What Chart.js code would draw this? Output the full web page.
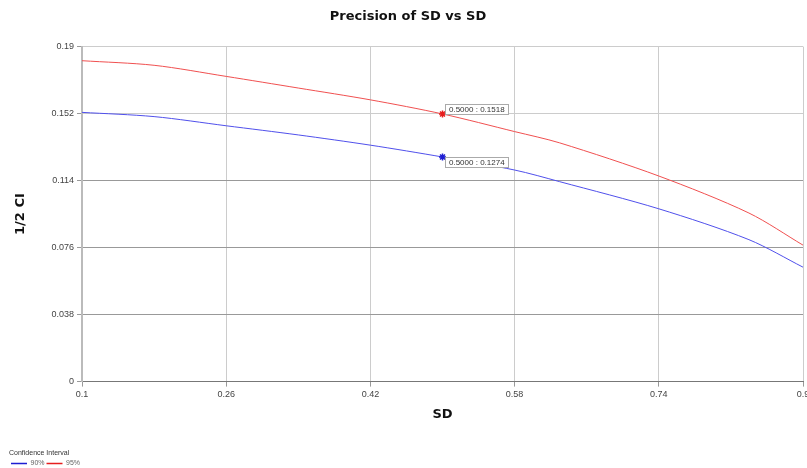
<!DOCTYPE html>
<html>
<head>
<meta charset="utf-8">
<title>Precision of SD vs SD</title>
<script src="https://cdn.jsdelivr.net/npm/chart.js"></script>
<style>
  body { margin: 0; background: #fff; }
  canvas { display: block; }
</style>
</head>
<body>
<canvas id="chart" width="807" height="468"></canvas>
<script>
// values
const sdValues = [0.1, 0.18, 0.26, 0.34, 0.42, 0.5, 0.58, 0.63, 0.74, 0.84, 0.9];
const ci90 = [0.1527, 0.1503, 0.1451, 0.1399, 0.1341, 0.1274, 0.1200, 0.1134, 0.0980, 0.0805, 0.0649];
const ci95 = [0.1820, 0.1794, 0.1731, 0.1665, 0.1598, 0.1518, 0.1418, 0.1354, 0.1166, 0.0956, 0.0774];
const seriesNames = ['90%', '95%'];
const xTicks = [0.1, 0.26, 0.42, 0.58, 0.74, 0.9];
const yTicks = [0, 0.038, 0.076, 0.114, 0.152, 0.19];
const darkGridValues = [0.038, 0.076, 0.114];
const markedSd = 0.5;

const toPoints = vals => vals.map((v, i) => ({ x: sdValues[i], y: v }));

// little value boxes next to the marked points
const markPlugin = {
    id: 'marks',
    afterDatasetsDraw(chart) {
        const ctx = chart.ctx;
        const i = sdValues.indexOf(markedSd);
        chart.data.datasets.forEach((ds, d) => {
            const pt = chart.getDatasetMeta(d).data[i];
            const text = markedSd.toFixed(4) + ' : ' + ds.data[i].y.toFixed(4);
            ctx.save();
            ctx.font = '8px "Liberation Sans", Arial';
            const w = Math.round(ctx.measureText(text).width) + 7;
            const h = 10;
            const x = Math.round(pt.x) + 2;
            const y = d === 1 ? Math.round(pt.y) - h : Math.round(pt.y);
            ctx.fillStyle = '#fff';
            ctx.fillRect(x + 0.5, y + 0.5, w, h);
            ctx.strokeStyle = '#aaa';
            ctx.lineWidth = 1;
            ctx.strokeRect(x + 0.5, y + 0.5, w, h);
            ctx.fillStyle = '#333';
            ctx.textBaseline = 'middle';
            ctx.fillText(text, x + 4, y + h / 2 + 1);
            ctx.restore();
        });
    }
};

const pointRadius = c => sdValues[c.dataIndex] === markedSd ? 3.5 : 0;
const tickFont = { family: '"Liberation Sans", Arial', size: 9 };
const boldFont = { family: '"DejaVu Sans"', size: 13, weight: 'bold' };
const smallFont = { family: '"Liberation Sans", Arial', size: 7 };

new Chart(document.getElementById('chart'), {
    type: 'line',
    data: {
        datasets: [{
            label: seriesNames[0],
            data: toPoints(ci90),
            borderColor: 'rgb(80,80,235)',
            backgroundColor: 'rgb(30,30,210)',
            borderWidth: 1,
            pointStyle: 'star',
            pointRadius: pointRadius,
            pointBorderWidth: 1.5,
            pointBorderColor: 'rgb(30,30,210)',
            tension: 0.3
        }, {
            label: seriesNames[1],
            data: toPoints(ci95),
            borderColor: 'rgb(240,80,80)',
            backgroundColor: 'rgb(230,30,30)',
            borderWidth: 1,
            pointStyle: 'star',
            pointRadius: pointRadius,
            pointBorderWidth: 1.5,
            pointBorderColor: 'rgb(230,30,30)',
            tension: 0.3
        }]
    },
    options: {
        responsive: false,
        animation: false,
        // legend's own bottom padding hangs below the canvas edge
        layout: { padding: { left: 9, right: 0, top: 0, bottom: -9 } },
        plugins: {
            tooltip: { enabled: false },
            title: {
                display: true,
                text: 'Precision of SD vs SD',
                color: '#111',
                font: boldFont,
                padding: { top: 9, bottom: 22 }
            },
            legend: {
                position: 'bottom',
                align: 'start',
                title: {
                    display: true,
                    text: 'Confidence Interval',
                    position: 'start',
                    color: '#333',
                    font: smallFont,
                    padding: { top: 0, bottom: 0 }
                },
                labels: {
                    color: '#666',
                    font: smallFont,
                    usePointStyle: true,
                    pointStyle: 'line',
                    pointStyleWidth: 16,
                    padding: 2
                }
            }
        },
        scales: {
            x: {
                type: 'linear',
                min: 0.1,
                max: 0.9,
                afterBuildTicks: s => { s.ticks = xTicks.map(v => ({ value: v })); },
                afterFit: s => { s.height = 68; s.paddingRight = 4; s.paddingLeft = 0; },
                ticks: {
                    color: '#444',
                    font: tickFont,
                    padding: 3,
                    maxRotation: 0,
                    callback: v => String(v)
                },
                grid: { color: '#ccc', tickColor: '#999', tickLength: 5 },
                border: { color: '#777', width: 1 },
                title: {
                    display: true,
                    text: 'SD',
                    color: '#111',
                    font: boldFont,
                    padding: { top: 4, bottom: 27 }
                }
            },
            y: {
                min: 0,
                max: 0.19,
                afterBuildTicks: s => { s.ticks = yTicks.map(v => ({ value: v })); },
                afterFit: s => { s.width = 73; },
                ticks: {
                    color: '#444',
                    font: tickFont,
                    padding: 3,
                    callback: v => String(v)
                },
                grid: {
                    color: c => darkGridValues.includes(c.tick && c.tick.value) ? '#999' : '#ccc',
                    tickColor: '#999',
                    tickLength: 5
                },
                border: { color: '#bbb', width: 2 },
                title: {
                    display: true,
                    text: '1/2 CI',
                    color: '#111',
                    font: boldFont,
                    padding: { top: 4, bottom: 4 }
                }
            }
        }
    },
    plugins: [markPlugin]
});
</script>
</body>
</html>
